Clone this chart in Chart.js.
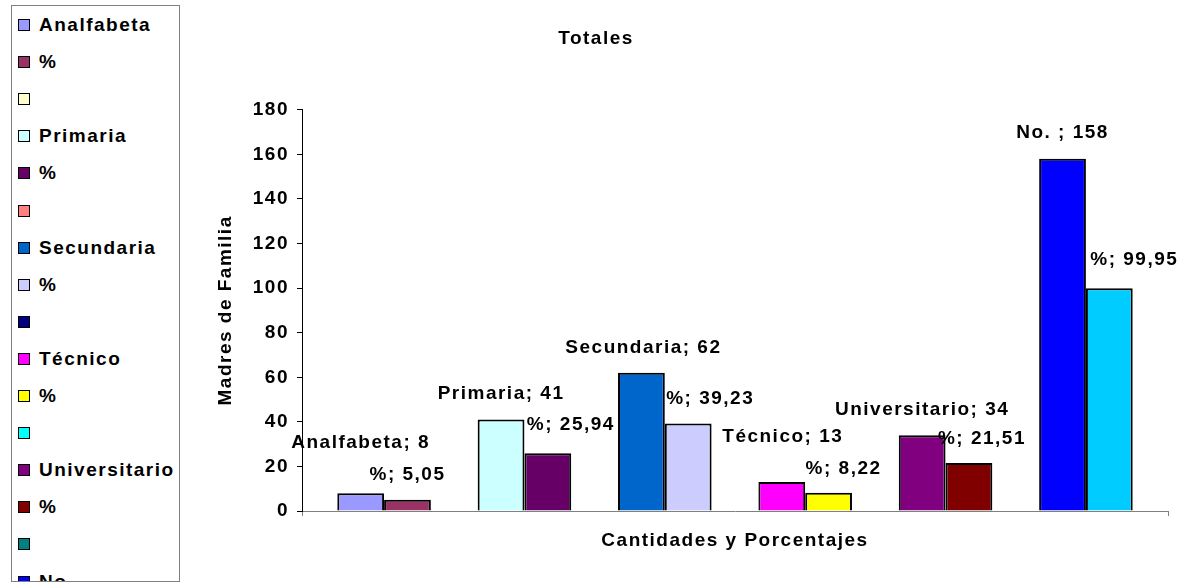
<!DOCTYPE html>
<html>
<head>
<meta charset="utf-8">
<title>Totales</title>
<script src="https://cdn.jsdelivr.net/npm/chart.js@4"></script>
<style>
  body { margin: 0; background: #fff; }
  #wrap { position: relative; width: 1180px; height: 583px; overflow: hidden; }
  #leyenda {
    position: absolute; left: 11px; top: 5px; width: 167px; height: 575px;
    border: 1px solid #808080; background: #fff; overflow: hidden;
    font: bold 19px "Liberation Sans", Arial, sans-serif; letter-spacing: 1.5px; color: #000;
  }
  .item { position: absolute; left: 6px; height: 20px; display: flex; align-items: center; white-space: nowrap; }
  .caja { width: 10px; height: 10px; border: 1.5px solid #000; margin-right: 9px; flex: none; }
</style>
</head>
<body>
<div id="wrap">
  <canvas id="grafico" width="1180" height="583"></canvas>
  <div id="leyenda"></div>
</div>
<script>
// series (una sola categoria, 17 series como en la hoja original)
const nombres = ['Analfabeta', '%', '', 'Primaria', '%', '', 'Secundaria', '%', '',
                 'Técnico', '%', '', 'Universitario', '%', '', 'No. ', '%'];
const valores = [8, 5.05, null, 41, 25.94, null, 62, 39.23, null,
                 13, 8.22, null, 34, 21.51, null, 158, 99.95];
const colores = ['#9999FF', '#993366', '#FFFFCC', '#CCFFFF', '#660066', '#FF8080',
                 '#0066CC', '#CCCCFF', '#000080', '#FF00FF', '#FFFF00', '#00FFFF',
                 '#800080', '#800000', '#008080', '#0000FF', '#00CCFF'];
const categorias = [''];
const ticksY = [0, 20, 40, 60, 80, 100, 120, 140, 160, 180];

const fuente = '"Liberation Sans", Arial, sans-serif';

// leyenda a la izquierda (recortada como en el original)
const leyenda = document.getElementById('leyenda');
nombres.forEach((n, i) => {
    const item = document.createElement('div');
    item.className = 'item';
    item.style.top = (9 + i * 37.1) + 'px';
    item.innerHTML = `<span class="caja" style="background:${colores[i]}"></span><span>${n}</span>`;
    leyenda.appendChild(item);
});

// espaciado de letras como en el grafico de Excel
const espaciado = {
    id: 'espaciado',
    beforeDraw(chart) { chart.ctx.letterSpacing = '1.5px'; }
};

// etiquetas "Serie; valor" sobre cada barra
const etiquetas = {
    id: 'etiquetas',
    afterDatasetsDraw(chart, args, opts) {
        const ctx = chart.ctx;
        ctx.save();
        ctx.font = 'bold 19px ' + fuente;
        ctx.letterSpacing = '1.5px';
        ctx.fillStyle = '#000';
        ctx.textAlign = 'center';
        ctx.textBaseline = 'middle';
        chart.data.datasets.forEach((ds, i) => {
            const v = ds.data[0];
            if (v == null) return;
            const barra = chart.getDatasetMeta(i).data[0];
            const d = opts.desplaz[i] || [0, -25];
            const texto = ds.label + '; ' + String(v).replace('.', ',');
            ctx.fillText(texto, barra.x + d[0], barra.y + d[1]);
        });
        ctx.restore();
    }
};

const datasets = nombres.map((n, i) => ({
    label: n,
    data: [valores[i]],
    backgroundColor: colores[i],
    borderColor: '#000',
    borderWidth: 2,
    categoryPercentage: 0.9185,
    barPercentage: 1
}));

new Chart(document.getElementById('grafico'), {
    type: 'bar',
    data: { labels: categorias, datasets: datasets },
    plugins: [espaciado, etiquetas],
    options: {
        responsive: false,
        animation: false,
        devicePixelRatio: 1,
        layout: { padding: { left: 24, right: 12, top: 0, bottom: 27 } },
        plugins: {
            legend: { display: false },
            tooltip: { enabled: false },
            title: {
                display: true,
                text: 'Totales',
                color: '#000',
                font: { family: fuente, size: 19, weight: 'bold' },
                padding: { top: 27, bottom: 60 }
            },
            etiquetas: {
                desplaz: {
                    0: [0, -50], 1: [0, -25], 3: [0, -26], 4: [23, -28],
                    6: [2, -25], 7: [22, -25], 9: [1, -45], 10: [15, -24],
                    12: [0, -25], 13: [13, -24], 15: [0, -26], 16: [25, -28]
                }
            }
        },
        scales: {
            x: {
                ticks: { display: false },
                grid: { display: true, drawOnChartArea: false, drawTicks: true, tickLength: 5, color: '#808080', offset: true },
                border: { color: '#808080', width: 1 },
                title: {
                    display: true,
                    text: 'Cantidades y Porcentajes',
                    color: '#000',
                    font: { family: fuente, size: 19, weight: 'bold' }
                },
                afterFit(s) { s.height = 45; }
            },
            y: {
                min: 0,
                max: 180,
                afterBuildTicks(s) { s.ticks = ticksY.map(v => ({ value: v })); },
                ticks: {
                    color: '#000',
                    padding: 8,
                    font: { family: fuente, size: 19, weight: 'bold' }
                },
                grid: { drawOnChartArea: false, drawTicks: true, tickLength: 5, color: '#000' },
                border: { color: '#000', width: 1 },
                title: {
                    display: true,
                    text: 'Madres de Familia',
                    color: '#000',
                    padding: { top: 190, bottom: 4 },
                    font: { family: fuente, size: 19, weight: 'bold' }
                },
                afterFit(s) { s.width = 278; }
            }
        }
    }
});
</script>
</body>
</html>
